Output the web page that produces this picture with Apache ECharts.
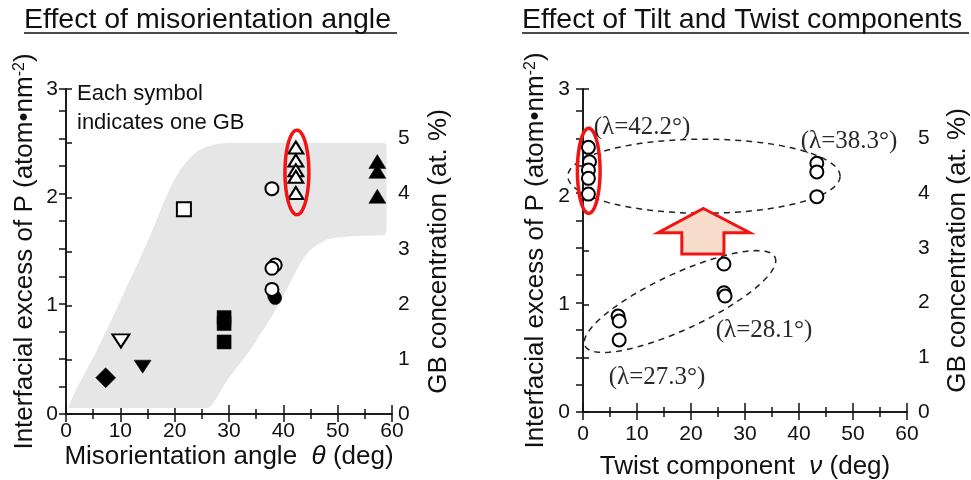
<!DOCTYPE html>
<html>
<head>
<meta charset="utf-8">
<title>P excess vs misorientation</title>
<script src="https://cdn.jsdelivr.net/npm/echarts@6/dist/echarts.min.js"></script>
<style>
  html, body { margin: 0; padding: 0; background: #fff; }
  #chart { width: 971px; height: 480px; }
</style>
</head>
<body>
<div id="chart"></div>
<script>
// ---- left panel: misorientation angle (deg) vs interfacial excess (atom/nm2) ----
const diamondFilled = [[7.3, 0.335]]
const triDownOpen = [[10.1, 0.674]]
const triDownFilled = [[14.1, 0.437]]
const squareOpen = [[21.7, 1.89]]
const squareFilled = [[29.1, 0.89], [29.1, 0.835], [29.1, 0.665]]
const circleOpen = [[37.9, 2.08], [38.5, 1.375], [37.9, 1.345], [37.9, 1.15]]
const circleFilled = [[38.3, 1.09], [38.5, 1.07]]
const triUpOpen = [[42.3, 2.46], [42.3, 2.34], [42.3, 2.25], [42.3, 2.19], [42.3, 2.04]]
const triUpFilled = [[57.3, 2.33], [57.3, 2.24], [57.3, 2.01]]

// grey band outline (theta, excess), clockwise from bottom-left
const bandOutline = [
  [0.4, 0.055], [0.9, 0.12], [2.0, 0.24], [3.3, 0.36], [5.5, 0.57], [7.6, 0.79],
  [9.5, 0.99], [11.3, 1.19], [13.2, 1.39], [15.0, 1.59], [16.6, 1.78], [18.0, 1.96],
  [19.3, 2.1], [20.5, 2.21], [21.7, 2.3], [22.9, 2.37], [24.3, 2.43], [26.0, 2.47],
  [28.0, 2.495], [30.0, 2.505], [58.6, 2.505], [59.0, 2.48], [59.0, 1.69], [58.6, 1.65],
  [55.0, 1.645], [52.3, 1.64], [50.0, 1.63], [48.0, 1.61], [46.3, 1.565], [44.9, 1.51],
  [43.9, 1.45], [43.1, 1.39], [40.9, 1.18], [37.9, 0.9], [33.9, 0.59], [29.6, 0.31],
  [27.0, 0.09], [26.2, 0.055]
]

// ---- right panel: twist component (deg) vs interfacial excess ----
const lambda422 = [[1.0, 2.458], [1.2, 2.324], [1.0, 2.247], [1.0, 2.17], [1.0, 2.024]]
const lambda383 = [[43.3, 2.31], [43.3, 2.23], [43.3, 2.0]]
const lambda281 = [[26.1, 1.374], [26.1, 1.108], [26.3, 1.077]]
const lambda273 = [[6.5, 0.891], [6.7, 0.845], [6.7, 0.669]]

const lambdaLabels = ['(λ=42.2°)', '(λ=38.3°)', '(λ=28.1°)', '(λ=27.3°)']

// rings: centre and the ends of both semi-axes, in data units
const redRingLeft = { center: [42.5, 2.23], a: [44.7, 2.23], b: [42.5, 2.62] }
const redRingRight = { center: [1.06, 2.24], a: [3.16, 2.24], b: [1.06, 2.635] }
const upperGroup = { center: [22.4, 2.19], a: [47.6, 2.19], b: [22.4, 2.534] }
const lowerGroup = { center: [17.96, 1.026], a: [35.56, 1.437], b: [20.14, 0.792] }
const arrowOutline = [
  [22.3, 1.89], [30.9, 1.665], [26.1, 1.665], [26.1, 1.467],
  [18.3, 1.467], [18.3, 1.665], [13.9, 1.665]
]

const FONT = 'Liberation Sans'
const RED = '#f01414'
const INK = '#111'

function ringPoints(api, ring) {
  const c = api.coord(ring.center)
  const a = api.coord(ring.a)
  const b = api.coord(ring.b)
  const pts = []
  for (let i = 0; i < 144; i++) {
    const t = (i / 144) * Math.PI * 2
    pts.push([
      c[0] + (a[0] - c[0]) * Math.cos(t) + (b[0] - c[0]) * Math.sin(t),
      c[1] + (a[1] - c[1]) * Math.cos(t) + (b[1] - c[1]) * Math.sin(t)
    ])
  }
  return pts
}

// one custom series that draws a single closed outline
function shapeSeries(gridIdx, getPoints, style, z) {
  return {
    type: 'custom',
    coordinateSystem: 'cartesian2d',
    xAxisIndex: gridIdx * 2,
    yAxisIndex: gridIdx * 2,
    clip: false,
    silent: true,
    z: z,
    data: [[0, 0]],
    renderItem: (params, api) => ({
      type: 'polygon',
      shape: { points: getPoints(api) },
      style: style
    })
  }
}

function marks(gridIdx, data, symbol, size, filled, rotate) {
  return {
    type: 'scatter',
    xAxisIndex: gridIdx * 2,
    yAxisIndex: gridIdx * 2,
    data: data,
    symbol: symbol,
    symbolSize: size,
    symbolRotate: rotate || 0,
    z: 3,
    itemStyle: {
      color: filled ? '#000' : '#fff',
      borderColor: '#000',
      borderWidth: filled ? 0.5 : 2,
      opacity: 1
    }
  }
}

const tickStyle = { color: INK, width: 1.5 }

function xAxisPair(gridIdx, name, labelMargin, nameGap) {
  return [
    {
      gridIndex: gridIdx, type: 'value', position: 'bottom', min: 0, max: 60, interval: 10,
      name: name, nameLocation: 'middle', nameGap: nameGap, nameMoveOverlap: false,
      nameTextStyle: {
        color: INK,
        rich: {
          a: { fontFamily: FONT, fontSize: 26, color: INK },
          i: { fontFamily: FONT, fontSize: 26, color: INK, fontStyle: 'italic' }
        }
      },
      axisLine: { lineStyle: tickStyle },
      axisTick: { inside: true, length: 9, lineStyle: tickStyle },
      minorTick: { show: true, splitNumber: 2, length: 5, lineStyle: tickStyle },
      splitLine: { show: false },
      axisLabel: { color: INK, fontFamily: FONT, fontSize: 21, margin: labelMargin }
    },
    {
      gridIndex: gridIdx, type: 'value', position: 'top', min: 0, max: 60, interval: 10,
      axisLine: { lineStyle: tickStyle },
      axisTick: { inside: true, length: 8, lineStyle: tickStyle },
      minorTick: { show: true, splitNumber: 2, length: 5, lineStyle: tickStyle },
      splitLine: { show: false },
      axisLabel: { show: false }
    }
  ]
}

function yAxisPair(gridIdx, leftMargin, leftGap, rightMargin, rightGap) {
  const richName = {
    a: { fontFamily: FONT, fontSize: 26, color: INK },
    s: { fontFamily: FONT, fontSize: 16, color: INK, verticalAlign: 'top' }
  }
  return [
    {
      gridIndex: gridIdx, type: 'value', position: 'left', min: 0, max: 3, interval: 1,
      name: '{a|Interfacial excess of P (atom•nm}{s|-2}{a|)}',
      nameLocation: 'middle', nameGap: leftGap, nameRotate: 90, nameMoveOverlap: false,
      nameTextStyle: { rich: richName },
      axisLine: { lineStyle: tickStyle },
      axisTick: { inside: true, length: 6, lineStyle: tickStyle },
      minorTick: { show: true, splitNumber: 2, length: 6, lineStyle: tickStyle },
      splitLine: { show: false },
      axisLabel: { color: INK, fontFamily: FONT, fontSize: 21, margin: leftMargin }
    },
    {
      gridIndex: gridIdx, type: 'value', position: 'right', min: 0, max: 5.9, interval: 1,
      name: 'GB concentration (at. %)',
      nameLocation: 'middle', nameGap: rightGap, nameRotate: 90, nameMoveOverlap: false,
      nameTextStyle: { fontFamily: FONT, fontSize: 26, color: INK },
      axisLine: { lineStyle: tickStyle },
      axisTick: { inside: true, length: 7, lineStyle: tickStyle },
      minorTick: { show: true, splitNumber: 2, length: 7, lineStyle: tickStyle },
      splitLine: { show: false },
      axisLabel: { color: INK, fontFamily: FONT, fontSize: 21, margin: rightMargin, showMaxLabel: false }
    }
  ]
}

function titleText(x, text) {
  return {
    type: 'text', x: x, y: 20,
    style: { text: text, font: '28.5px "Liberation Sans"', fill: INK, verticalAlign: 'middle' }
  }
}

function underline(x1, x2) {
  return { type: 'line', shape: { x1: x1, y1: 33, x2: x2, y2: 33 }, style: { stroke: INK, lineWidth: 1.5 } }
}

function lambdaText(x, y, text) {
  return {
    type: 'text', x: x, y: y, z: 10,
    style: { text: text, font: '25px "Liberation Serif"', fill: '#2a2a2a', align: 'center', verticalAlign: 'middle' }
  }
}

const chart = echarts.init(document.getElementById('chart'), null, { renderer: 'canvas' })

const option = {
  backgroundColor: '#fff',
  animation: false,
  grid: [
    { left: 66, top: 89, width: 326, height: 325, outerBoundsMode: 'none' },
    { left: 583, top: 89, width: 324, height: 323, outerBoundsMode: 'none' }
  ],
  xAxis: [
    ...xAxisPair(0, '{a|Misorientation angle  }{i|θ}{a| (deg)}', 7, 30),
    ...xAxisPair(1, '{a|Twist component  }{i|ν}{a| (deg)}', 12, 42)
  ],
  yAxis: [
    ...yAxisPair(0, 8, 28, 6, 34),
    ...yAxisPair(1, 13, 34, 11, 38)
  ],
  graphic: [
    titleText(24, 'Effect of misorientation angle'),
    underline(24, 397),
    titleText(522, 'Effect of Tilt and Twist components'),
    underline(522, 969),
    {
      type: 'text', x: 77, y: 108, z: 10,
      style: {
        text: 'Each symbol\nindicates one GB', font: '22px "Liberation Sans"', fill: INK,
        lineHeight: 29, verticalAlign: 'middle'
      }
    },
    lambdaText(642, 127, lambdaLabels[0]),
    lambdaText(849, 141, lambdaLabels[1]),
    lambdaText(764, 330, lambdaLabels[2]),
    lambdaText(657, 377, lambdaLabels[3])
  ],
  series: [
    // left panel
    shapeSeries(0, (api) => bandOutline.map((p) => api.coord(p)), { fill: '#e6e6e6' }, 1),
    marks(0, diamondFilled, 'diamond', 20, true),
    marks(0, triDownOpen, 'triangle', [17, 13], false, 180),
    marks(0, triDownFilled, 'triangle', [17, 13], true, 180),
    marks(0, squareOpen, 'rect', 14, false),
    marks(0, squareFilled, 'rect', 14, true),
    marks(0, circleFilled, 'circle', 13, true),
    marks(0, circleOpen, 'circle', 13, false),
    marks(0, triUpOpen, 'triangle', [15, 12], false),
    marks(0, triUpFilled, 'triangle', [17, 14], true),
    shapeSeries(0, (api) => ringPoints(api, redRingLeft), { fill: null, stroke: RED, lineWidth: 3.5 }, 4),
    // right panel
    shapeSeries(1, (api) => ringPoints(api, upperGroup), { fill: null, stroke: '#222', lineWidth: 1.5, lineDash: [6, 5] }, 2),
    shapeSeries(1, (api) => ringPoints(api, lowerGroup), { fill: null, stroke: '#222', lineWidth: 1.5, lineDash: [6, 5] }, 2),
    shapeSeries(1, (api) => arrowOutline.map((p) => api.coord(p)), { fill: '#f8dccb', stroke: RED, lineWidth: 3 }, 2),
    marks(1, lambda422, 'circle', 13, false),
    marks(1, lambda383, 'circle', 13, false),
    marks(1, lambda281, 'circle', 13, false),
    marks(1, lambda273, 'circle', 13, false),
    shapeSeries(1, (api) => ringPoints(api, redRingRight), { fill: null, stroke: RED, lineWidth: 3.5 }, 4)
  ]
}

chart.setOption(option)
</script>
</body>
</html>
